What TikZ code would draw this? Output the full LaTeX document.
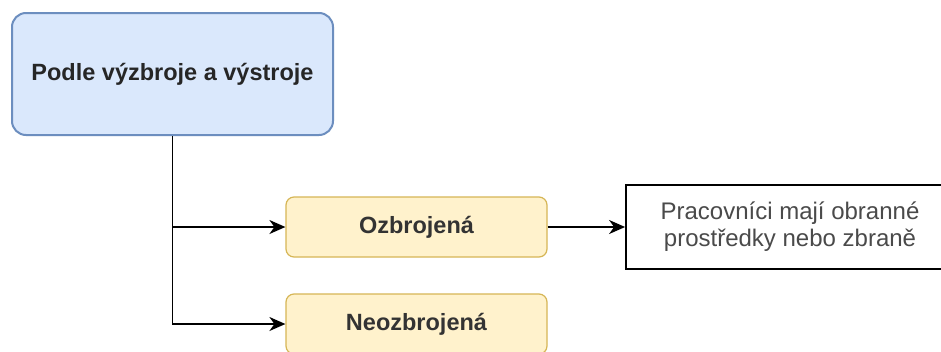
\documentclass[tikz,border=0pt]{standalone}
\usepackage{fontspec}
\setmainfont{Liberation Sans}
\usetikzlibrary{arrows.meta, positioning}

\definecolor{typefill}{HTML}{DAE8FC}
\definecolor{typeline}{HTML}{6C8EBF}
\definecolor{kindfill}{HTML}{FFF2CC}
\definecolor{kindline}{HTML}{D6B656}
\definecolor{notetext}{HTML}{4A4A4A}

\begin{document}
\begin{tikzpicture}[x=1pt, y=-1pt,
    typebox/.style = {draw = typeline, fill = typefill, line width = 2pt, rounded corners = 14pt,
        minimum width = 321pt, minimum height = 122pt, inner sep = 0pt,
        font = \fontsize{23.5}{28}\selectfont\bfseries, text = black!85},
    kindbox/.style = {draw = kindline, fill = kindfill, line width = 1.2pt, rounded corners = 8pt,
        minimum width = 261pt, minimum height = 60pt, inner sep = 0pt,
        font = \fontsize{23.5}{28}\selectfont\bfseries, text = black!80},
    notebox/.style = {draw = black, fill = white, line width = 1.8pt,
        minimum width = 328pt, minimum height = 84pt, inner sep = 0pt, align = center,
        font = \fontsize{24}{27}\selectfont, text = notetext},
    conn/.style = {draw, line width = 1.7pt, -{Stealth[length = 16pt, width = 14pt, inset = 5pt]}}]
    \useasboundingbox (0,0) rectangle (941,351);
    \clip (0,0) rectangle (941,351);
    \fill[white] (0,0) rectangle (941,351);

    \node[typebox] (type) at (172.5, 74) {Podle výzbroje a výstroje};
    \node[kindbox] (armed) at (416.5, 227) {Ozbrojená};
    \node[kindbox] (unarmed) at (416.5, 324) {Neozbrojená};
    \node[notebox] (note) at (790, 227) {Pracovníci mají obranné\\prostředky nebo zbraně};

    \draw[conn] (type.south) |- (armed.west);
    \draw[conn] (type.south) |- (unarmed.west);
    \draw[conn] (armed) -- (note);
\end{tikzpicture}
\end{document}
